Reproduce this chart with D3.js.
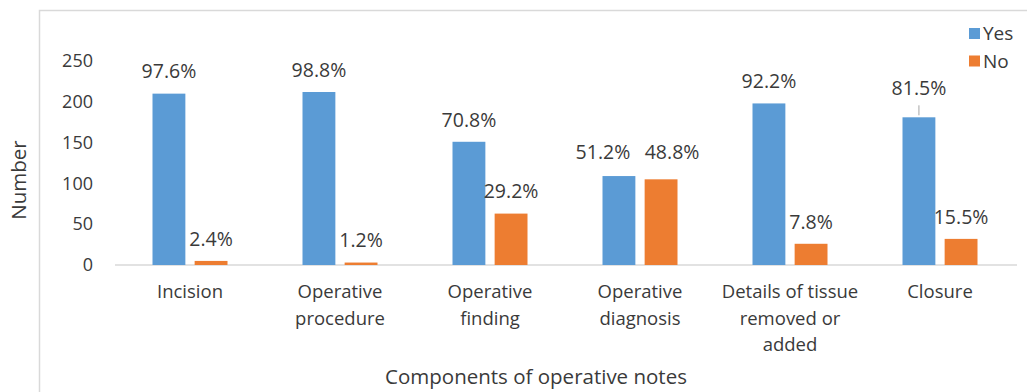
<!DOCTYPE html>
<html>
<head>
<meta charset="utf-8">
<script src="https://cdn.jsdelivr.net/npm/d3@7"></script>
<style>
  html, body { margin: 0; padding: 0; background: #fff; }
  svg { display: block; font-family: "Open Sans", sans-serif; }
</style>
</head>
<body>
<svg id="chart" width="1027" height="392"></svg>
<script>
// Components of operative notes: counts of Yes / No, with percentage labels
const categories = [
  ["Incision"],
  ["Operative", "procedure"],
  ["Operative", "finding"],
  ["Operative", "diagnosis"],
  ["Details of tissue", "removed or", "added"],
  ["Closure"]
];
const seriesNames = ["Yes", "No"];
const yesCounts = [210, 212, 151, 109, 198, 181];
const noCounts  = [5, 3, 63, 105, 26, 32];
const yesLabels = ["97.6%", "98.8%", "70.8%", "51.2%", "92.2%", "81.5%"];
const noLabels  = ["2.4%", "1.2%", "29.2%", "48.8%", "7.8%", "15.5%"];
const yTicks = [0, 50, 100, 150, 200, 250];

const colors = { Yes: "#5B9BD5", No: "#ED7D31" };
const textColor = "#3a3a3a";

const svg = d3.select("#chart");
const W = 1027, H = 392;
const margin = { left: 115, right: 12, top: 61, bottom: 127 };
const plotW = W - margin.left - margin.right;
const plotH = H - margin.top - margin.bottom;

// Outer chart frame
svg.append("rect")
  .attr("x", 39.5).attr("y", 10.5)
  .attr("width", 1100).attr("height", 500)
  .attr("fill", "none").attr("stroke", "#d9d9d9").attr("stroke-width", 1.5);

const g = svg.append("g").attr("transform", `translate(${margin.left},${margin.top})`);

const x0 = d3.scaleBand().domain(d3.range(categories.length)).range([0, plotW])
  .paddingInner(0.5).paddingOuter(0.25);
const x1 = d3.scaleBand().domain(seriesNames).range([0, x0.bandwidth()]).paddingInner(0.22);
const y = d3.scaleLinear().domain([0, 250]).range([plotH, 0]);

// Y axis tick labels (no axis line)
const yAxis = d3.axisLeft(y).tickValues(yTicks).tickSize(0).tickPadding(0);
const ya = g.append("g").attr("transform", "translate(-22,0)").call(yAxis);
ya.select(".domain").remove();
ya.selectAll("text")
  .attr("fill", textColor).attr("font-size", 18)
  .attr("font-family", "Open Sans, sans-serif");

// Baseline
g.append("line")
  .attr("x1", 0).attr("x2", plotW + 2)
  .attr("y1", y(0)).attr("y2", y(0))
  .attr("stroke", "#d9d9d9").attr("stroke-width", 1.5);

const rows = categories.map((c, i) => ({
  i,
  values: [
    { key: "Yes", v: yesCounts[i], label: yesLabels[i] },
    { key: "No", v: noCounts[i], label: noLabels[i] }
  ]
}));

// Nudges for a few labels that were moved aside
const labelNudge = { "3-Yes": [-16, -2], "3-No": [11, -5], "5-Yes": [0, -7] };

const groups = g.selectAll(".grp").data(rows).join("g")
  .attr("class", "grp")
  .attr("transform", d => `translate(${x0(d.i)},0)`);

groups.selectAll("rect").data(d => d.values).join("rect")
  .attr("x", d => x1(d.key))
  .attr("y", d => y(d.v))
  .attr("width", x1.bandwidth())
  .attr("height", d => y(0) - y(d.v))
  .attr("fill", d => colors[d.key]);

groups.each(function (row) {
  const gg = d3.select(this);
  row.values.forEach(d => {
    const n = labelNudge[`${row.i}-${d.key}`] || [0, 0];
    const cx = x1(d.key) + x1.bandwidth() / 2;
    gg.append("text")
      .attr("x", cx + n[0])
      .attr("y", y(d.v) - 22 + n[1])
      .attr("dy", "0.35em")
      .attr("text-anchor", "middle")
      .attr("fill", textColor)
      .attr("font-size", 19.5)
      .text(d.label);
    if (row.i === 5 && d.key === "Yes") {
      // leader line from the moved label to its bar
      gg.append("line")
        .attr("x1", cx).attr("x2", cx)
        .attr("y1", y(d.v) - 12).attr("y2", y(d.v) - 2)
        .attr("stroke", "#a6a6a6").attr("stroke-width", 1);
    }
  });
});

// Category labels
const catText = g.selectAll(".cat").data(categories).join("text")
  .attr("class", "cat")
  .attr("text-anchor", "middle")
  .attr("fill", textColor)
  .attr("font-size", 18.5)
  .attr("transform", (d, i) => `translate(${x0(i) + x0.bandwidth() / 2},${y(0) + 33})`);
catText.selectAll("tspan").data(d => d).join("tspan")
  .attr("x", 0)
  .attr("dy", (d, j) => j === 0 ? "0" : "26.5")
  .text(d => d);

// Axis titles
svg.append("text")
  .attr("x", 536).attr("y", 377).attr("dy", "0.35em")
  .attr("text-anchor", "middle").attr("fill", textColor).attr("font-size", 20.5)
  .text("Components of operative notes");

svg.append("text")
  .attr("transform", "translate(19,180) rotate(-90)")
  .attr("dy", "0.35em")
  .attr("text-anchor", "middle").attr("fill", textColor).attr("font-size", 20.5)
  .text("Number");

// Legend
const legend = svg.append("g").attr("transform", "translate(969,28)");
seriesNames.forEach((s, i) => {
  const lg = legend.append("g").attr("transform", `translate(0,${i * 27.5})`);
  lg.append("rect").attr("width", 11).attr("height", 11).attr("fill", colors[s]);
  lg.append("text").attr("x", 14).attr("y", 5.5).attr("dy", "0.35em")
    .attr("fill", textColor).attr("font-size", 19).text(s);
});
</script>
</body>
</html>
